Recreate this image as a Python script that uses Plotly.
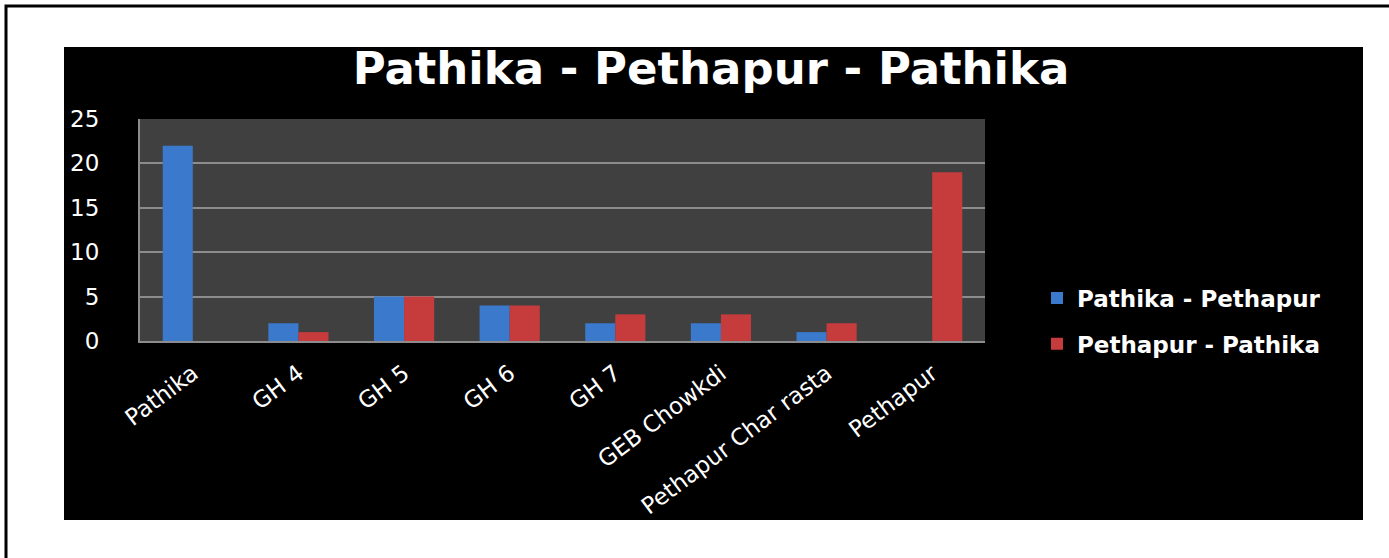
import plotly.graph_objects as go

# data
stops = ["Pathika", "GH 4", "GH 5", "GH 6", "GH 7", "GEB Chowkdi",
         "Pethapur Char rasta", "Pethapur"]
pathika_pethapur = [22, 2, 5, 4, 2, 2, 1, 0]
pethapur_pathika = [0, 1, 5, 4, 3, 3, 2, 19]
yticks = [0, 5, 10, 15, 20, 25]

W, H = 1389, 558
# plot area in pixels
PL, PR, PT, PB = 140, 985, 119, 341


def px_x(p):
    return (p - PL) / (PR - PL)


def px_y(p):
    return (PB - p) / (PB - PT)


FONT = "DejaVu Sans"

fig = go.Figure()
fig.add_trace(go.Bar(x=stops, y=pathika_pethapur, name="<b>Pathika - Pethapur</b>",
                     legendgroup="a", marker=dict(color="#3a79cc", line=dict(width=0))))
fig.add_trace(go.Bar(x=stops, y=pethapur_pathika, name="<b>Pethapur - Pathika</b>",
                     legendgroup="b", marker=dict(color="#c63b3c", line=dict(width=0))))

shapes = [
    # black chart box
    dict(type="rect", xref="paper", yref="paper", layer="below",
         x0=px_x(64), x1=px_x(1363), y0=px_y(520), y1=px_y(47),
         fillcolor="black", line=dict(width=0)),
    # grey plot area
    dict(type="rect", xref="paper", yref="paper", layer="below",
         x0=0, x1=1, y0=0, y1=1, fillcolor="#404040", line=dict(width=0)),
    # outer frame: left and top edges only
    dict(type="path", xref="paper", yref="paper",
         path=f"M {px_x(6)},{px_y(H)} L {px_x(6)},{px_y(6)} L {px_x(W)},{px_y(6)}",
         line=dict(color="black", width=3)),
]

fig.update_layout(
    width=W, height=H,
    margin=dict(l=PL, r=W - PR, t=PT, b=H - PB),
    paper_bgcolor="white", plot_bgcolor="#404040",
    barmode="group", bargap=0.43, bargroupgap=0,
    shapes=shapes,
    title=dict(text="<b>Pathika - Pethapur - Pathika</b>", x=px_x(711), xanchor="center",
               xref="paper", y=1 - 68 / H, yanchor="middle",
               font=dict(family=FONT, size=45, color="white")),
    legend=dict(x=px_x(1037), y=px_y(321), xanchor="left", yanchor="middle",
                bgcolor="rgba(0,0,0,0)", tracegroupgap=13,
                font=dict(family=FONT, size=23, color="white")),
    showlegend=True,
)
fig.update_xaxes(showgrid=False, showline=True, linecolor="#8c8c8c", linewidth=2,
                 tickangle=-37, ticklabelstandoff=8,
                 tickfont=dict(family=FONT, size=23, color="white"))
fig.update_yaxes(range=[0, 25], tickvals=yticks, showgrid=True, gridcolor="#8c8c8c",
                 gridwidth=1.5, showline=True, linecolor="#8c8c8c", linewidth=2,
                 zeroline=False, ticklabelstandoff=34,
                 tickfont=dict(family=FONT, size=23, color="white"))

fig.write_html("out.html", config={"displayModeBar": False},
               post_script="document.body.style.margin='0';"
                           "document.body.style.overflow='hidden';")
